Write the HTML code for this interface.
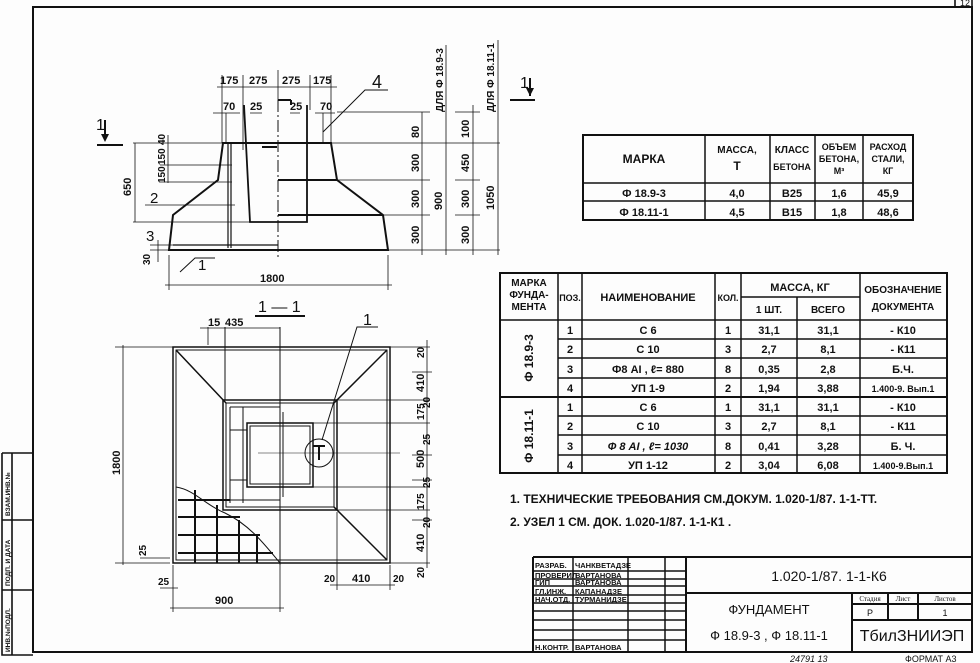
<!DOCTYPE html>
<html><head><meta charset="utf-8"><style>
html,body{margin:0;padding:0;background:#fff;}
svg{display:block;font-family:"Liberation Sans","DejaVu Sans",sans-serif;}
text{fill:#111;}
</style></head><body>
<svg width="980" height="663" viewBox="0 0 980 663" xmlns="http://www.w3.org/2000/svg">
<rect width="980" height="663" fill="#fdfdfd"/>
<g stroke="#111" fill="none" stroke-width="1.6">
<path d="M33 652 V7 H972 V652 Z" stroke-width="2"/>
<path d="M2 453 H33 M2 453 V655 H33 M12 453 V655 M2 590 H33 M2 520 H33"/>
<path d="M955 0 V7 M972 0 V7"/>
</g>
<g font-size="6.5" font-weight="bold">
<text transform="translate(10,652) rotate(-90)">ИНВ.№ПОДЛ.</text>
<text transform="translate(10,586) rotate(-90)">ПОДП. И ДАТА</text>
<text transform="translate(10,516) rotate(-90)">ВЗАМ.ИНВ.№</text>
</g>
<text x="960" y="6" font-size="9">12</text>

<!-- ELEVATION -->
<g stroke="#111" fill="none" stroke-width="1.6">
<path d="M169 250 L173 215 L218 180 L223 143 H331 L337 180 L383 215 L388 250 Z" stroke-width="2"/>
<path d="M278 180 H337 M278 215 H383" stroke-width="2"/>
<path d="M244 105 L250 222 H307 V105" stroke-width="1.8"/>
<path d="M278 100 V258" stroke-dasharray="12 3 2 3" stroke-width="1"/>
<path d="M228 143 V248 M231 143 V248 M173 245 H278" stroke-width="1.2"/>
<path d="M222 143 V75 M243 150 V75 M278 70 V100 M310 110 V75 M331 143 V75" stroke-width="0.8"/>
<path d="M217 87 H337 M213 113 H240 M250 113 H262 M290 113 H300 M315 113 H335" stroke-width="0.8"/>
<path d="M226 113 V143 M323 113 V143" stroke-width="0.8"/>
<path d="M278 100 H291 M262 147 H277 M291 100 V105" stroke-width="2"/>
<path d="M323 132 L365 90 H388" stroke-width="1"/>
<path d="M133 143 H225 M133 222 H250 M135 143 V222 M168 135 V183 M160 165 H232 M160 182 H232 M145 205 H235 M150 245 H200 M150 250 H169 M158 240 V262" stroke-width="0.8"/>
<path d="M180 272 L195 258 H215" stroke-width="1"/>
<path d="M169 255 V290 M388 255 V290 M165 285 H392" stroke-width="0.8"/>
<path d="M331 143 H500 M337 180 H430 M383 215 H430 M388 250 H500 M337 112 H430 M455 112 H480 M455 180 H480 M455 215 H480 M422 112 V255 M446 45 V255 M473 105 V255 M498 40 V255" stroke-width="0.8"/>
<path d="M97 145 H123 M105 120 V140 M510 100 H535 M530 78 V96" stroke-width="2"/>
</g>
<path d="M101 134 L105 142 L109 134 Z M526 88 L530 96 L534 88 Z" fill="#111"/>
<g font-size="11" font-weight="bold">
<text x="220" y="84">175</text><text x="249" y="84">275</text><text x="282" y="84">275</text><text x="313" y="84">175</text>
<text x="223" y="110">70</text><text x="250" y="110">25</text><text x="290" y="110">25</text><text x="320" y="110">70</text>
<text x="372" y="88" font-size="18" font-weight="normal">4</text>
<text x="96" y="130" font-size="16" font-weight="normal">1</text>
<text x="520" y="88" font-size="16" font-weight="normal">1</text>
<text x="150" y="203" font-size="15" font-weight="normal">2</text>
<text x="146" y="241" font-size="15" font-weight="normal">3</text>
<text x="198" y="270" font-size="15" font-weight="normal">1</text>
<text x="260" y="282">1800</text>
<text transform="translate(131,196) rotate(-90)">650</text>
<text transform="translate(165,145) rotate(-90)" font-size="10">40</text>
<text transform="translate(165,165) rotate(-90)" font-size="10">150</text>
<text transform="translate(165,183) rotate(-90)" font-size="10">150</text>
<text transform="translate(150,265) rotate(-90)" font-size="10">30</text>
<text transform="translate(419,138) rotate(-90)">80</text>
<text transform="translate(419,172) rotate(-90)">300</text>
<text transform="translate(419,208) rotate(-90)">300</text>
<text transform="translate(419,244) rotate(-90)">300</text>
<text transform="translate(442,210) rotate(-90)">900</text>
<text transform="translate(469,138) rotate(-90)">100</text>
<text transform="translate(469,172) rotate(-90)">450</text>
<text transform="translate(469,208) rotate(-90)">300</text>
<text transform="translate(469,244) rotate(-90)">300</text>
<text transform="translate(494,210) rotate(-90)">1050</text>
<text transform="translate(443,112) rotate(-90)" font-size="10">ДЛЯ Ф 18.9-3</text>
<text transform="translate(494,112) rotate(-90)" font-size="10">ДЛЯ Ф 18.11-1</text>
</g>

<!-- PLAN -->
<g stroke="#111" fill="none" stroke-width="1.5">
<rect x="173" y="347" width="217" height="216"/><rect x="176" y="350" width="211" height="210" stroke-width="1"/>
<rect x="223" y="400" width="114" height="110"/><rect x="226" y="403" width="108" height="104" stroke-width="1"/>
<rect x="247" y="423" width="66" height="64"/><rect x="250" y="426" width="60" height="58" stroke-width="1"/>
<path d="M176 350 L226 403 M387 350 L334 403 M387 560 L334 507"/>
<path d="M280 327 V565 M225 327 V400 M230 407 H280 M230 500 H280 M230 407 V503 M243 407 V503 M230 430 H247 M230 480 H247 M283 412 V497" stroke-width="1"/>
<path d="M258 453 H400" stroke-width="0.6"/>
<circle cx="319" cy="453" r="14" stroke-width="1"/>
<path d="M319 445 V460 M313 446 H325" stroke-width="2"/>
<path d="M322 440 L357 327 H378" stroke-width="1"/>
<path d="M176 487 C195 490 205 505 225 513 C250 525 265 545 280 563" stroke-width="1"/>
<path d="M178 500 H230 M178 517 H240 M178 535 H260 M178 553 H273 M195 490 V563 M217 505 V563 M239 520 V563 M257 535 V563" stroke-width="2"/>
<path d="M390 347 H430 M337 400 H430 M313 423 H430 M313 487 H430 M337 510 H430 M390 563 H430 M427 340 V568 M412 372 H432 M412 455 H432 M412 480 H432 M412 520 H432" stroke-width="0.8"/>
<path d="M115 347 H173 M115 563 H170 M123 345 V565 M140 558 H170 M200 328 H280 M208 327 V345 M173 565 V612 M280 565 V612 M170 608 H284 M160 588 H178 M337 512 V590 M390 565 V590 M330 585 H395" stroke-width="0.8"/>
<path d="M255 316 H305" stroke-width="2"/>
</g>
<g font-size="11" font-weight="bold">
<text x="258" y="312" font-size="16" font-weight="normal">1 — 1</text>
<text x="363" y="325" font-size="16" font-weight="normal">1</text>
<text x="208" y="326">15</text><text x="225" y="326">435</text>
<text transform="translate(120,475) rotate(-90)">1800</text>
<text transform="translate(146,556) rotate(-90)" font-size="10">25</text>
<text x="158" y="585" font-size="10">25</text>
<text x="215" y="604">900</text>
<text x="324" y="582" font-size="10">20</text><text x="352" y="582">410</text><text x="393" y="582" font-size="10">20</text>
<text transform="translate(424,358) rotate(-90)" font-size="10">20</text>
<text transform="translate(424,392) rotate(-90)">410</text>
<text transform="translate(430,408) rotate(-90)" font-size="10">20</text>
<text transform="translate(424,420) rotate(-90)" font-size="10">175</text>
<text transform="translate(430,445) rotate(-90)" font-size="10">25</text>
<text transform="translate(424,468) rotate(-90)">500</text>
<text transform="translate(430,488) rotate(-90)" font-size="10">25</text>
<text transform="translate(424,510) rotate(-90)" font-size="10">175</text>
<text transform="translate(430,528) rotate(-90)" font-size="10">20</text>
<text transform="translate(424,552) rotate(-90)">410</text>
<text transform="translate(424,578) rotate(-90)" font-size="10">20</text>
</g>

<!-- TABLE 1 -->
<g stroke="#111" fill="none" stroke-width="1.5">
<rect x="583" y="135" width="330" height="85" stroke-width="2"/>
<path d="M583 183 H913 M583 201 H913 M705 135 V220 M770 135 V220 M815 135 V220 M863 135 V220"/>
</g>
<g font-size="10" font-weight="bold" text-anchor="middle">
<text x="644" y="163" font-size="12">МАРКА</text>
<text x="737" y="153">МАССА,</text><text x="737" y="170" font-size="12">Т</text>
<text x="792" y="153">КЛАСС</text><text x="792" y="170" font-size="9">БЕТОНА</text>
<text x="839" y="150" font-size="9">ОБЪЕМ</text><text x="839" y="162" font-size="9">БЕТОНА,</text><text x="839" y="174" font-size="9">М³</text>
<text x="888" y="150" font-size="9">РАСХОД</text><text x="888" y="162" font-size="9">СТАЛИ,</text><text x="888" y="174" font-size="9">КГ</text>
<g font-size="11">
<text x="644" y="197">Ф 18.9-3</text><text x="737" y="197">4,0</text><text x="792" y="197">В25</text><text x="839" y="197">1,6</text><text x="888" y="197">45,9</text>
<text x="644" y="216">Ф 18.11-1</text><text x="737" y="216">4,5</text><text x="792" y="216">В15</text><text x="839" y="216">1,8</text><text x="888" y="216">48,6</text>
</g></g>

<!-- TABLE 2 -->
<g stroke="#111" fill="none" stroke-width="1.5">
<rect x="500" y="273" width="447" height="200" stroke-width="2"/>
<path d="M500 320 H947 M741 297 H860 M558 339 H947 M558 358 H947 M558 378 H947 M558 416 H947 M558 435 H947 M558 455 H947"/>
<path d="M500 397 H947" stroke-width="2"/>
<path d="M558 273 V473 M582 273 V473 M715 273 V473 M741 273 V473 M797 297 V473 M860 273 V473"/>
</g>
<g font-size="10" font-weight="bold" text-anchor="middle">
<text x="529" y="286">МАРКА</text><text x="529" y="298">ФУНДА-</text><text x="529" y="310">МЕНТА</text>
<text x="570" y="301" font-size="9">ПОЗ.</text>
<text x="648" y="301" font-size="11">НАИМЕНОВАНИЕ</text>
<text x="728" y="301" font-size="9">КОЛ.</text>
<text x="800" y="291" font-size="11">МАССА, КГ</text>
<text x="769" y="313">1 ШТ.</text><text x="828" y="313">ВСЕГО</text>
<text x="903" y="293">ОБОЗНАЧЕНИЕ</text><text x="903" y="310">ДОКУМЕНТА</text>
<text transform="translate(533,358) rotate(-90)" font-size="12">Ф 18.9-3</text>
<text transform="translate(533,436) rotate(-90)" font-size="12">Ф 18.11-1</text>
<g font-size="11">
<text x="570" y="334">1</text><text x="648" y="334">С 6</text><text x="728" y="334">1</text><text x="769" y="334">31,1</text><text x="828" y="334">31,1</text><text x="903" y="334">- К10</text>
<text x="570" y="353">2</text><text x="648" y="353">С 10</text><text x="728" y="353">3</text><text x="769" y="353">2,7</text><text x="828" y="353">8,1</text><text x="903" y="353">- К11</text>
<text x="570" y="373">3</text><text x="648" y="373">Ф8 АI , ℓ= 880</text><text x="728" y="373">8</text><text x="769" y="373">0,35</text><text x="828" y="373">2,8</text><text x="903" y="373">Б.Ч.</text>
<text x="570" y="392">4</text><text x="648" y="392">УП 1-9</text><text x="728" y="392">2</text><text x="769" y="392">1,94</text><text x="828" y="392">3,88</text><text x="903" y="392" font-size="9">1.400-9. Вып.1</text>
<text x="570" y="411">1</text><text x="648" y="411">С 6</text><text x="728" y="411">1</text><text x="769" y="411">31,1</text><text x="828" y="411">31,1</text><text x="903" y="411">- К10</text>
<text x="570" y="430">2</text><text x="648" y="430">С 10</text><text x="728" y="430">3</text><text x="769" y="430">2,7</text><text x="828" y="430">8,1</text><text x="903" y="430">- К11</text>
<text x="570" y="450">3</text><text x="648" y="450" font-style="italic">Ф 8 АI , ℓ= 1030</text><text x="728" y="450">8</text><text x="769" y="450">0,41</text><text x="828" y="450">3,28</text><text x="903" y="450">Б. Ч.</text>
<text x="570" y="469">4</text><text x="648" y="469">УП 1-12</text><text x="728" y="469">2</text><text x="769" y="469">3,04</text><text x="828" y="469">6,08</text><text x="903" y="469" font-size="9">1.400-9.Вып.1</text>
</g></g>

<g font-size="12" font-weight="bold">
<text x="510" y="503">1. ТЕХНИЧЕСКИЕ  ТРЕБОВАНИЯ СМ.ДОКУМ. 1.020-1/87. 1-1-ТТ.</text>
<text x="510" y="526">2. УЗЕЛ   1  СМ. ДОК. 1.020-1/87. 1-1-К1 .</text>
</g>

<!-- TITLE BLOCK -->
<g stroke="#111" fill="none" stroke-width="1.5">
<path d="M533 557 H972 M533 557 V652 M686 557 V652 M686 593 H972 M852 593 V652 M852 604 H972 M852 620 H972 M888 593 V620 M918 593 V620" stroke-width="2"/>
<path d="M533 571 H686 M533 579 H686 M533 586 H686 M533 595 H686 M533 603 H686 M533 611 H686 M533 620 H686 M533 630 H686 M533 640 H686 M573 557 V652 M628 557 V652 M665 557 V652"/>
</g>
<g font-size="7.5" font-weight="bold">
<text x="535" y="568">РАЗРАБ.</text><text x="575" y="568">ЧАНКВЕТАДЗЕ</text>
<text x="535" y="578">ПРОВЕРИЛ</text><text x="575" y="578">ВАРТАНОВА</text>
<text x="535" y="585">ГИП</text><text x="575" y="585">ВАРТАНОВА</text>
<text x="535" y="594">ГЛ.ИНЖ.</text><text x="575" y="594">КАПАНАДЗЕ</text>
<text x="535" y="602">НАЧ.ОТД.</text><text x="575" y="602">ТУРМАНИДЗЕ</text>
<text x="535" y="650">Н.КОНТР.</text><text x="575" y="650">ВАРТАНОВА</text>
</g>
<g font-size="14" text-anchor="middle">
<text x="829" y="581">1.020-1/87. 1-1-К6</text>
<text x="769" y="614" font-size="13">ФУНДАМЕНТ</text>
<text x="769" y="640" font-size="13">Ф 18.9-3 , Ф 18.11-1</text>
<text x="912" y="641" font-size="16">ТбилЗНИИЭП</text>
<text x="870" y="601" font-size="7" font-family="Liberation Serif,serif">Стадия</text>
<text x="903" y="601" font-size="7" font-family="Liberation Serif,serif">Лист</text>
<text x="945" y="601" font-size="7" font-family="Liberation Serif,serif">Листов</text>
<text x="870" y="616" font-size="9">Р</text>
<text x="945" y="616" font-size="9">1</text>
</g>
<text x="790" y="662" font-size="9" font-style="italic">24791   13</text>
<text x="905" y="662" font-size="9">ФОРМАТ А3</text>
</svg>
</body></html>
